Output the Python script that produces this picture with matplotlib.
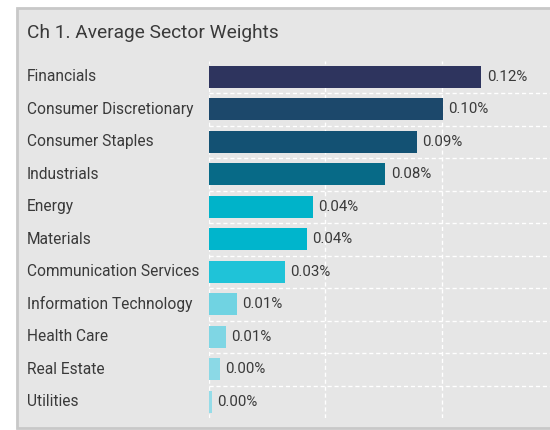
import matplotlib.pyplot as plt
import matplotlib.transforms as mtransforms
from matplotlib.patches import Rectangle

sectors = ['Financials', 'Consumer Discretionary', 'Consumer Staples', 'Industrials',
           'Energy', 'Materials', 'Communication Services', 'Information Technology',
           'Health Care', 'Real Estate', 'Utilities']
weights = [0.117, 0.1006, 0.0894, 0.0757, 0.0447, 0.0421, 0.0327, 0.012, 0.0073, 0.0047, 0.0013]
labels = ['0.12%', '0.10%', '0.09%', '0.08%', '0.04%', '0.04%', '0.03%', '0.01%', '0.01%', '0.00%', '0.00%']
colors = ['#2e345e', '#1c486b', '#135173', '#076a87', '#00b3c9', '#00b5cc', '#1fc3d8',
          '#70d3e2', '#7fd6e4', '#8bd9e6', '#95dce8']

plt.rcParams['font.family'] = ['Roboto', 'DejaVu Sans']
txt = '#3a3a3a'

fig = plt.figure(figsize=(5.5, 4.3), dpi=100)
fig.patch.set_facecolor('white')

# grey panel behind everything
panel = Rectangle((17 / 550, 1 - 428 / 430), 1.0, (428 - 8) / 430, transform=fig.transFigure,
                  facecolor='#e6e6e6', edgecolor='#c8c8c8', linewidth=2, zorder=-5)
fig.patches.append(panel)

fig.text(27 / 550, 1 - 33 / 430, 'Ch 1. Average Sector Weights', fontsize=13.8, color=txt,
         ha='left', va='center')

ax = fig.add_axes([209 / 550, 1 - 418 / 430, 1 - 209 / 550, (418 - 60.5) / 430])
ax.set_facecolor('none')
ax.set_zorder(2)
y = range(len(sectors))
ax.barh(y, weights, height=0.67, color=colors, zorder=2)
ax.set_xlim(0, 341 / 2326)
ax.set_ylim(len(sectors) - 0.5, -0.5)

for i, (w, lab) in enumerate(zip(weights, labels)):
    ax.annotate(lab, (w, i), xytext=(4, 0), textcoords='offset points', va='center',
                ha='left', fontsize=10.8, color=txt, zorder=3)

trans = mtransforms.blended_transform_factory(fig.transFigure, ax.transData)
for i, s in enumerate(sectors):
    fig.text(27 / 550, i, s, transform=trans, fontsize=11.2, color=txt, ha='left', va='center')

for xv in [0, 0.05, 0.10]:
    ax.axvline(xv, color='white', linestyle=(0, (3, 2)), linewidth=1, zorder=1)
for yv in range(len(sectors) - 1):
    ax.axhline(yv + 0.5, color='white', linestyle=(0, (3, 2)), linewidth=1, zorder=1)

ax.set_xticks([])
ax.set_yticks([])
for sp in ax.spines.values():
    sp.set_visible(False)

fig.savefig('out.png', dpi=100)
